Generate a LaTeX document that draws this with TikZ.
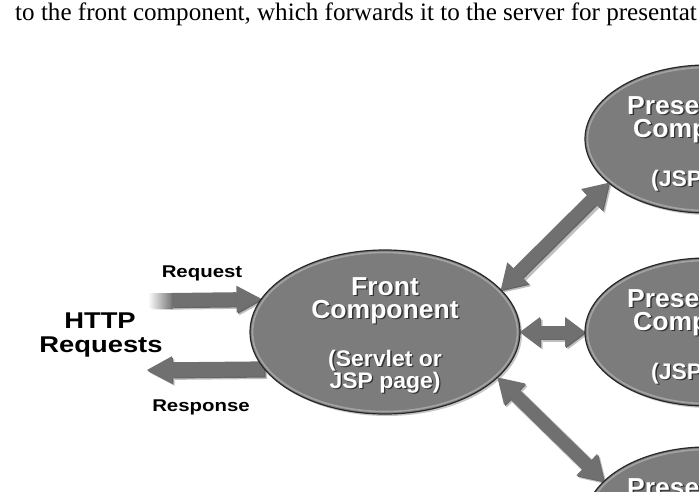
\documentclass[tikz,border=0pt]{standalone}
\usepackage{fontspec}
\setmainfont{Liberation Serif}
\newfontfamily\hvb[FakeStretch=1.02]{Liberation Sans}
\newfontfamily\hvw[FakeStretch=1.2]{Liberation Sans}
\usetikzlibrary{shapes.geometric,arrows.meta,backgrounds,shadows}
\definecolor{ellgray}{RGB}{124,124,124}
\definecolor{arrgray}{RGB}{112,112,112}
\definecolor{edgegray}{RGB}{40,40,40}
\newcommand\shd[1]{\leavevmode\rlap{\hspace{1.4pt}\raisebox{-1.4pt}{\color{black!80}#1}}#1}
\newcommand\fatarr[3]{%
  \draw[shA,#1] (#2) -- (#3);
  \draw[shB,#1] (#2) -- (#3);
  \draw[fatmain,#1] (#2) -- (#3);}
\begin{document}
\begin{tikzpicture}[x=1pt,y=-1pt,
  bigtip/.tip={Triangle[length=24pt,width=30pt,line width=0pt]},
  midtip/.tip={Triangle[length=20pt,width=30pt,line width=0pt]},
  reqtip/.tip={Triangle[length=25pt,width=27pt,line width=0pt]},
  fatmain/.style={draw=arrgray, line width=13pt},
  shA/.style={draw=black!25, line width=15pt, transform canvas={shift={(2.6pt,-2.6pt)}}},
  shB/.style={draw=black!60, line width=13pt, transform canvas={shift={(1.2pt,-1.2pt)}}},
  comp/.style={ellipse, fill=ellgray, draw=edgegray, line width=1.2pt, inner sep=0pt, outer sep=0pt,
    drop shadow={shadow xshift=2pt, shadow yshift=-2pt, opacity=0.45}},
  rim/.style={draw=white, opacity=0.3, line width=1.6pt},
  ttl/.style={text=white, font=\hvb\bfseries\fontsize{26}{26}\selectfont, inner sep=0pt, anchor=base},
  sub/.style={text=white, font=\hvb\bfseries\fontsize{22.5}{22.5}\selectfont, inner sep=0pt, anchor=base},
  ttlw/.style={ttl, anchor=base west},
  subw/.style={sub, anchor=base west},
  lbl/.style={font=\hvw\bfseries\fontsize{17}{17}\selectfont, inner sep=0pt, anchor=base},
  big/.style={font=\hvw\bfseries\fontsize{22.8}{22.8}\selectfont, inner sep=0pt, anchor=base}]
\useasboundingbox (0,0) rectangle (699,492);
\clip (0,0) rectangle (699,492);

% caption line (cut at the right edge, as in the source)
\node[anchor=base west, inner sep=0pt, font=\fontsize{25.1}{25.1}\selectfont] (caption) at (15,21)
  {to the front component, which forwards it to the server for presentat};

% components
\node[comp, minimum width=270pt, minimum height=164pt] (front) at (385,332) {};
\node[comp, minimum width=244pt, minimum height=148pt] (pres1) at (707,139) {};
\node[comp, minimum width=244pt, minimum height=148pt] (pres2) at (707,332) {};
\node[comp, minimum width=244pt, minimum height=148pt] (pres3) at (707,521) {};
\draw[rim] (front.center) ellipse [x radius=132.5, y radius=79.5];
\draw[rim] (pres1.center) ellipse [x radius=119.5, y radius=71.5];
\draw[rim] (pres2.center) ellipse [x radius=119.5, y radius=71.5];
\draw[rim] (pres3.center) ellipse [x radius=119.5, y radius=71.5];

% component texts
\node[ttl] (f1) at (385,295) {\shd{Front}};
\node[ttl] (f2) at (385,318) {\shd{Component}};
\node[sub] (f3) at (385,366) {\shd{(Servlet or}};
\node[sub] (f4) at (385,388) {\shd{JSP page)}};

\node[ttlw] (p1a) at (627,114.5) {\shd{Prese}};
\node[ttlw] (p1b) at (633,137.5) {\shd{Comp}};
\node[subw] (p1c) at (651,186) {\shd{(JSP}};

\node[ttlw] (p2a) at (627,307.5) {\shd{Prese}};
\node[ttlw] (p2b) at (633,330.5) {\shd{Comp}};
\node[subw] (p2c) at (651,379) {\shd{(JSP}};

\node[ttlw] (p3a) at (627,496.5) {\shd{Prese}};

% left labels
\node[lbl] (req) at (202,277) {Request};
\node[lbl] (resp) at (201,411) {Response};
\node[big] (http1) at (100,328) {HTTP};
\node[big] (http2) at (101,352) {Requests};

\coordinate (reqtail) at (172,300);
\coordinate (resptip) at (147,370);

\begin{scope}[on background layer]
  % faded tail of the request arrow
  \shade[left color=white, right color=black!25] (150.6,295.6) rectangle (174.6,309.6);
  \shade[left color=white, right color=black!60] (149.2,294.2) rectangle (173.2,308.2);
  \shade[left color=white, right color=arrgray] (148,293) rectangle (173,307);
  \fatarr{-reqtip, line width=14pt}{reqtail}{front.165.5}
  \fatarr{-reqtip, line width=15pt}{front.197.6}{resptip}
  \fatarr{bigtip-bigtip}{front.20.1}{pres1.204.3}
  \fatarr{midtip-midtip}{front.east}{pres2.west}
  \fatarr{bigtip-bigtip}{front.338.3}{pres3.159.1}
\end{scope}
\end{tikzpicture}
\end{document}
